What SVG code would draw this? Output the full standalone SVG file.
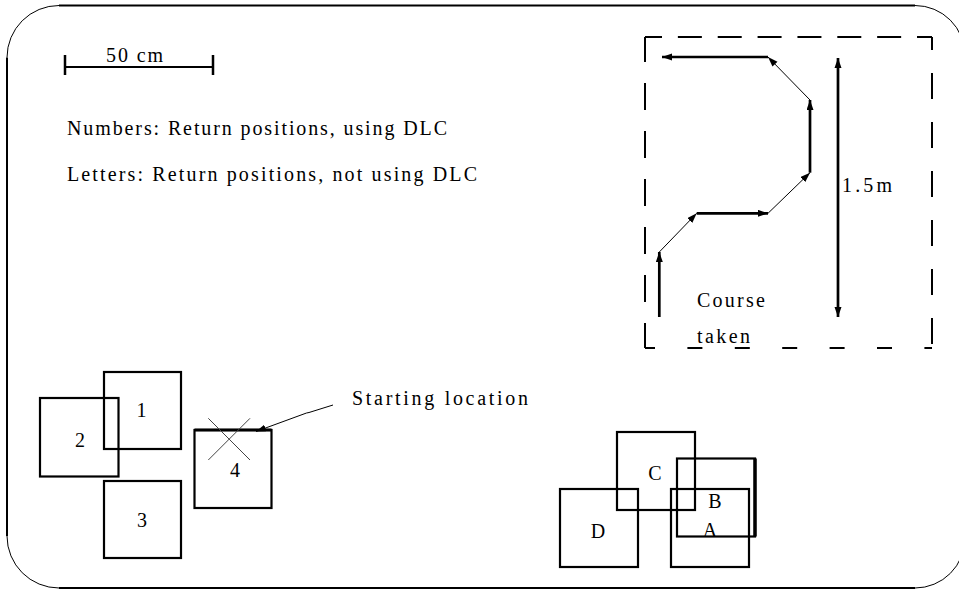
<svg xmlns="http://www.w3.org/2000/svg" width="959" height="590" viewBox="0 0 959 590">
<style>
text{font-family:"Liberation Serif","Times New Roman",serif;font-size:20px;fill:#000}
.lab{text-anchor:middle}
.box{fill:none;stroke:#000;stroke-width:2.2}
.thick{fill:none;stroke:#000;stroke-width:2.7}
.thin{fill:none;stroke:#000;stroke-width:1}
.dash{fill:none;stroke:#000;stroke-width:2}
</style>
<defs>
<marker id="ah" markerUnits="userSpaceOnUse" markerWidth="11" markerHeight="8" refX="10" refY="3.5" orient="auto">
<path d="M0,0 L10,3.5 L0,7 z" fill="#000"/>
</marker>
<marker id="ahs" markerUnits="userSpaceOnUse" markerWidth="11" markerHeight="8" refX="0" refY="3.5" orient="auto">
<path d="M10,0 L0,3.5 L10,7 z" fill="#000"/>
</marker>
</defs>
<g id="frame">
<path d="M59,5.5 L915,5.5 M7,57.5 L7,536 M59,588 L915,588" stroke="#000" stroke-width="2" fill="none"/>
<path d="M7,57.5 A52,52 0 0 1 59,5.5 M915,5.5 A50,50 0 0 1 965,55.5 M965,538 A50,50 0 0 1 915,588 M59,588 A52,52 0 0 1 7,536" stroke="#000" stroke-width="1" fill="none"/>
</g>
<g id="scale">
<path d="M65,55 L65,75 M213,55 L213,75" stroke="#000" stroke-width="2.5"/>
<path d="M65,67 L213,67" stroke="#000" stroke-width="2.2"/>
<text x="106" y="62" textLength="57" lengthAdjust="spacing">50 cm</text>
</g>
<g id="legend">
<text x="67" y="135" textLength="380" lengthAdjust="spacing">Numbers: Return positions, using DLC</text>
<text x="67" y="181" textLength="410" lengthAdjust="spacing">Letters: Return positions, not using DLC</text>
</g>
<g id="course-box">
<line class="dash" x1="645" y1="37" x2="932" y2="37" stroke-dasharray="24 15.86" stroke-dashoffset="7"/>
<line class="dash" x1="645" y1="37" x2="645" y2="348" stroke-dasharray="27 21" stroke-dashoffset="2"/>
<line class="dash" x1="932" y1="37" x2="932" y2="348" stroke-dasharray="26 23" stroke-dashoffset="13"/>
<line class="dash" x1="645" y1="348" x2="932" y2="348" stroke-dasharray="15 32.4" stroke-dashoffset="5"/>
<text x="697" y="307" textLength="68" lengthAdjust="spacing">Course</text>
<text x="697" y="343" textLength="53" lengthAdjust="spacing">taken</text>
<text x="842" y="192" textLength="50" lengthAdjust="spacing">1.5m</text>
</g>
<g id="connectors">
<path class="thick" d="M659.3,317 L659.3,252" marker-end="url(#ah)"/>
<path class="thin" d="M659.3,252 L696.7,213.3" marker-end="url(#ah)"/>
<path class="thick" d="M696.7,213.3 L768,213.3" marker-end="url(#ah)"/>
<path class="thin" d="M768,213.3 L810,172.7" marker-end="url(#ah)"/>
<path class="thick" d="M810,172.7 L810,100" marker-end="url(#ah)"/>
<path class="thin" d="M810,100 L768,57" marker-end="url(#ah)"/>
<path class="thick" d="M768,57 L662,57" marker-end="url(#ah)"/>
<path class="thick" d="M838,58 L838,317" marker-start="url(#ahs)" marker-end="url(#ah)"/>
<path class="thin" d="M333,405 L309,412.5 L306.5,413 L256,431.5" marker-end="url(#ah)"/>
</g>
<g id="pos1"><rect class="box" x="104" y="372" width="77" height="77"/><text class="lab" x="141.5" y="417">1</text></g>
<g id="pos2"><rect class="box" x="40" y="398" width="78.5" height="78.5" stroke-width="3"/><text class="lab" x="80" y="447">2</text></g>
<g id="pos3"><rect class="box" x="104" y="481" width="77" height="77" stroke-width="2.5"/><text class="lab" x="142" y="527">3</text></g>
<g id="pos4">
<rect class="box" x="194.5" y="430" width="77" height="78"/>
<line x1="194.5" y1="430" x2="271.5" y2="430" stroke="#000" stroke-width="3"/>
<text class="lab" x="235" y="477">4</text>
<path d="M208.3,418.3 L250,460 M250,418.3 L208.3,460" stroke="#444" stroke-width="1" fill="none"/>
</g>
<g id="start-label"><text x="352" y="405" textLength="176" lengthAdjust="spacing">Starting location</text></g>
<g id="posC"><rect class="box" x="617" y="432" width="78" height="78"/><text class="lab" x="655" y="480">C</text></g>
<g id="posB"><rect class="box" x="677" y="458.5" width="78" height="78"/><line x1="755" y1="458.5" x2="755" y2="536.5" stroke="#000" stroke-width="3.5"/><text class="lab" x="715" y="508">B</text></g>
<g id="posA"><rect class="box" x="671" y="489" width="78" height="78"/><text class="lab" x="710" y="537">A</text></g>
<g id="posD"><rect class="box" x="560" y="489" width="78" height="78"/><text class="lab" x="598" y="538">D</text></g>
</svg>
